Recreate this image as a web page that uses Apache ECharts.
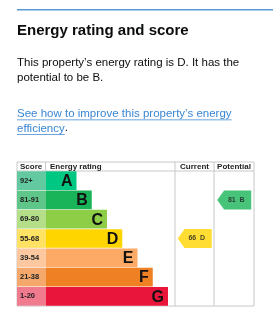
<!DOCTYPE html>
<html><head><meta charset="utf-8">
<script src="https://cdn.jsdelivr.net/npm/echarts@6/dist/echarts.min.js"></script>
<style>html,body{margin:0;padding:0;background:#fff}#c{width:273px;height:320px}</style>
</head><body><div id="c"></div>
<script>
var ratings = ['A','B','C','D','E','F','G'];
var scoreBands = ['92+','81-91','69-80','55-68','39-54','21-38','1-20'];
var barLengths = [2,3,4,5,6,7,8];
var barColors = ['#00c781','#19b459','#8dce46','#ffd500','#fcaa65','#ef8023','#e9153b'];
var bandColors = ['#62c9a1','#5fc689','#b4de88','#ffe163','#fdc8a0','#f4a86b','#f07b8f'];
var columns = ['Current','Potential'];
var currentScore = 66, currentRating = 'D';
var potentialScore = 81, potentialRating = 'B';

var chart = echarts.init(document.getElementById('c'), null, {renderer:'canvas'});
var F = 'Liberation Sans, Arial, sans-serif';
var linkFont = '11.5px Liberation Sans';
var ctx = document.createElement('canvas').getContext('2d');
ctx.font = linkFont;
var link1 = 'See how to improve this property\u2019s energy';
var link2 = 'efficiency';
var w1 = ctx.measureText(link1).width, w2 = ctx.measureText(link2).width;
var arrowPath = 'path://M0,10 L8,0 L40,0 L40,20 L8,20 Z';
function yCat(idx){ return {type:'category', gridIndex:idx, data:ratings, inverse:true, show:false}; }
var option = {
  animation:false,
  grid:[
    {left:17, top:171, width:29, height:135},
    {left:46, top:171, width:122, height:135},
    {left:175, top:171, width:79, height:135}
  ],
  xAxis:[
    {type:'value', gridIndex:0, min:0, max:1, show:false},
    {type:'value', gridIndex:1, min:0, max:8, show:false},
    {type:'category', gridIndex:2, data:columns, show:false}
  ],
  yAxis:[yCat(0), yCat(1), yCat(2)],
  series:[
    {type:'bar', xAxisIndex:0, yAxisIndex:0, barCategoryGap:'3%',
     data:ratings.map(function(r,i){return {value:1, itemStyle:{color:bandColors[i]}};}),
     label:{show:true, position:'insideLeft', offset:[-2,0], fontFamily:F, fontWeight:'bold', fontSize:7.5, color:'#222',
       formatter:function(p){return scoreBands[p.dataIndex];}}},
    {type:'bar', xAxisIndex:1, yAxisIndex:1, barCategoryGap:'3%',
     data:barLengths.map(function(v,i){return {value:v, itemStyle:{color:barColors[i]}};}),
     label:{show:true, position:'insideRight', offset:[1,1], fontFamily:F, fontWeight:'bold', fontSize:16, color:'#111',
       formatter:function(p){return ratings[p.dataIndex];}}},
    {type:'scatter', xAxisIndex:2, yAxisIndex:2, symbol:arrowPath, symbolSize:[34,19],
     data:[
       {value:['Current', currentRating], itemStyle:{color:'#ffd500'}, score:currentScore},
       {value:['Potential', potentialRating], itemStyle:{color:'#19b459'}, score:potentialScore}
     ],
     label:{show:true, position:'inside', offset:[2,0], fontFamily:F, fontWeight:'bold', fontSize:7, color:'#222',
       formatter:function(p){return p.data.score+'  '+p.value[1];}}}
  ],
  graphic:[
    {type:'rect', shape:{x:17, y:9, width:256, height:1.5}, style:{fill:'#5b9bd5'}},
    {type:'text', left:17, top:23, style:{text:'Energy rating and score', fontFamily:F, fontWeight:'bold', fontSize:15, fill:'#0b0c0c'}},
    {type:'text', left:17, top:56, style:{text:'This property\u2019s energy rating is D. It has the\npotential to be B.', fontFamily:F, fontSize:11.5, lineHeight:14.5, fill:'#0b0c0c'}},
    {type:'text', left:17, top:107, style:{text:link1+'\n'+link2, fontFamily:F, fontSize:11.5, lineHeight:14.5, fill:'#3a86d4'}},
    {type:'text', left:17 + w2, top:121.5, style:{text:'.', fontFamily:F, fontSize:11.5, fill:'#0b0c0c'}},
    {type:'rect', shape:{x:17, y:119.5, width:w1, height:0.8}, style:{fill:'#3a86d4'}},
    {type:'rect', shape:{x:17, y:134, width:w2, height:0.8}, style:{fill:'#3a86d4'}},
    {type:'rect', shape:{x:17, y:162, width:237, height:144}, style:{fill:'none', stroke:'#c8c8c8', lineWidth:1}},
    {type:'line', shape:{x1:17, y1:171, x2:254, y2:171}, style:{stroke:'#c8c8c8', lineWidth:1}},
    {type:'line', shape:{x1:45.5, y1:162, x2:45.5, y2:171}, style:{stroke:'#c8c8c8', lineWidth:1}},
    {type:'line', shape:{x1:175, y1:162, x2:175, y2:306}, style:{stroke:'#c8c8c8', lineWidth:1}},
    {type:'line', shape:{x1:214, y1:162, x2:214, y2:306}, style:{stroke:'#c8c8c8', lineWidth:1}},
    {type:'text', left:20, top:163, style:{text:'Score', fontFamily:F, fontWeight:'bold', fontSize:8, fill:'#222'}},
    {type:'text', left:50, top:163, style:{text:'Energy rating', fontFamily:F, fontWeight:'bold', fontSize:8, fill:'#222'}},
    {type:'text', x:194.5, y:163, style:{text:'Current', textAlign:'center', fontFamily:F, fontWeight:'bold', fontSize:8, fill:'#222'}},
    {type:'text', x:234, y:163, style:{text:'Potential', textAlign:'center', fontFamily:F, fontWeight:'bold', fontSize:8, fill:'#222'}}
  ]
};
chart.setOption(option);
</script></body></html>
